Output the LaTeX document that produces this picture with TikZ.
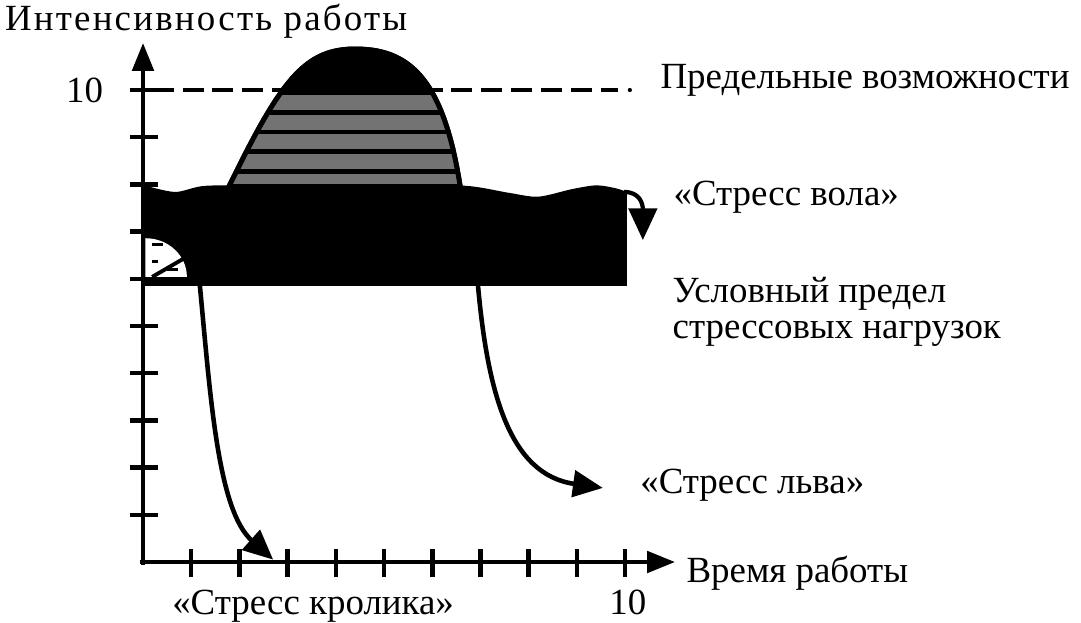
\documentclass[tikz,border=0pt]{standalone}
\usepackage{fontspec}
\setmainfont{Liberation Serif}
\usetikzlibrary{arrows.meta}
\begin{document}
\begin{tikzpicture}[x=0.964cm,y=0.944cm,
    axis/.style={line width=2.8pt,-{Triangle[length=16pt,width=12pt]}},
    tick/.style={line width=2.6pt},
    flow/.style={line width=2.6pt,-{Triangle[length=17pt,width=15pt]}},
    lbl/.style={font=\fontsize{21}{23}\selectfont,inner sep=0pt,anchor=base west}]
    \useasboundingbox (-2.967,-1.292) rectangle (19.46,11.907);
    % limit of capacity
    \draw[line width=2.3pt,dash pattern=on 12pt off 5pt] (0.2,10) -- (9.85,10);
    \fill (10.1,10) circle (1.2pt);
    % hump with striped inside
    \path[save path=\humppath] (1.70,7.9) .. controls (2.8,10.2) and (3.3,10.95) .. (4.46,10.92)
        .. controls (5.6,10.9) and (6.3,10.2) .. (6.64,7.9) -- cycle;
    \fill[use path=\humppath];
    \begin{scope}
        \clip[use path=\humppath];
        \foreach \k in {0,...,4}
            \fill[black!55] (1,9.9-0.42*\k) rectangle (7,9.58-0.42*\k);
        \draw[line width=5.6pt,use path=\humppath];
    \end{scope}
    % ox stress band
    \fill plot[smooth] coordinates {(0,7.99) (0.66,7.84) (1.29,7.97) (2.5,7.97) (4,7.92) (5.3,7.98) (6.7,7.97) (7.6,7.82) (8.2,7.74) (8.9,7.9) (9.4,7.98) (9.8,7.92) (10.04,7.84)} -- (10.04,5.85) -- (0,5.85) -- cycle;
    \draw[line width=2.4pt,-{Triangle[length=18pt,width=16pt]}] (9.98,7.84) .. controls (10.3,7.84) and (10.37,7.6) .. (10.37,6.82);
    % small white corner
    \fill[white] (0.05,6.04) -- (0.05,6.86) arc[start angle=90,end angle=0,x radius=0.86,y radius=0.82] -- cycle;
    \draw[line width=2.2pt] (0.19,6.04) -- (0.83,6.42);
    \draw[line width=1.6pt] (0.19,6.72) -- (0.41,6.72);
    \draw[line width=1.6pt] (0.19,6.36) -- (0.31,6.36);
    \draw[line width=1.6pt] (0.5,6.19) -- (0.73,6.19);
    % axes
    \draw[axis] (-0.06,0) -- (11.04,0);
    \draw[axis] (0,-0.06) -- (0,11.0);
    \foreach \i in {1,...,10} {
        \draw[tick] (-0.27,\i) -- (0.31,\i);
        \draw[tick] (\i,-0.32) -- (\i,0.28);
    }
    % stress curves
    \coordinate (rabbitsrc) at (1.18,5.85);
    \coordinate (rabbittip) at (2.70,0.05);
    \coordinate (lionsrc) at (6.95,5.85);
    \coordinate (liontip) at (9.54,1.57);
    \draw[flow] (rabbitsrc) .. controls (1.4,3.5) and (1.55,1.1) .. (rabbittip);
    \draw[flow] (lionsrc) .. controls (7.15,3.6) and (7.6,1.85) .. (liontip);
    % labels
    \node[lbl,font=\fontsize{21}{23}\selectfont\addfontfeature{LetterSpace=6}] (ylab) at (-2.87,11.27) {Интенсивность работы};
    \node[lbl,anchor=east] (yten) at (-0.82,10) {10};
    \node[lbl] (limit) at (10.73,10.04) {Предельные возможности};
    \node[lbl] (ox) at (11.0,7.56) {«Стресс вола»};
    \node[lbl] (cond) at (10.98,5.5) {Условный предел};
    \node[lbl] (cond2) at (10.98,4.74) {стрессовых нагрузок};
    \node[lbl] (lion) at (10.31,1.46) {«Стресс льва»};
    \node[lbl] (xlab) at (11.27,-0.44) {Время работы};
    \node[lbl] (rabbit) at (0.6,-1.12) {«Стресс кролика»};
    \node[lbl,anchor=base] (xten) at (10.06,-1.12) {10};
\end{tikzpicture}
\end{document}
